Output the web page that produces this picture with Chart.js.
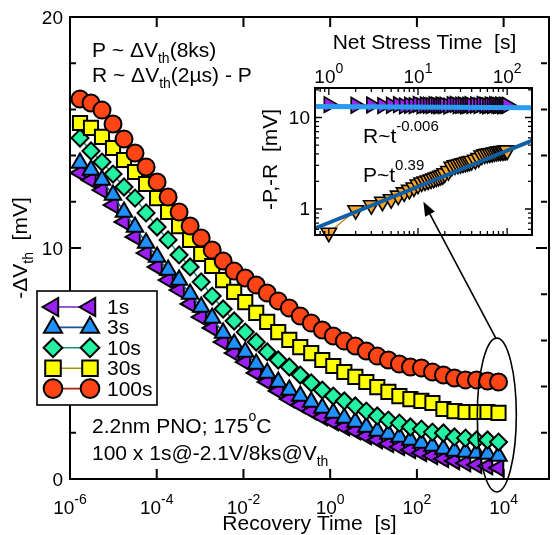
<!DOCTYPE html>
<html lang="en">
<head>
<meta charset="UTF-8" />
<title>Vth recovery after cyclic stress</title>
<script src="https://cdn.jsdelivr.net/npm/chart.js@4.4.0/dist/chart.umd.min.js"></script>
<style>
  body { margin: 0; background: #fff; }
  #wrap { position: relative; width: 559px; height: 535px; }
  #wrap canvas { position: absolute; left: 0; top: 0; }
</style>
</head>
<body>
<div id="wrap">
  <canvas id="mainChart" width="559" height="535"></canvas>
  <canvas id="insetChart" width="559" height="535"></canvas>
</div>
<script>
// recovery times [s] after the last stress cycle
const recoveryTimes = [1.7e-6, 3.05e-6, 5.47e-6, 9.82e-6, 1.76e-5, 3.16e-5, 5.68e-5, 1.02e-4, 1.83e-4, 3.28e-4,
  5.89e-4, 1.06e-3, 1.9e-3, 3.4e-3, 6.11e-3, 1.1e-2, 1.97e-2, 3.53e-2, 6.34e-2, 0.114,
  0.204, 0.366, 0.658, 1.18, 2.12, 3.8, 6.82, 12.2, 22.0, 39.4,
  70.8, 127, 228, 409, 735, 1320, 2370, 4250, 7620];

// -dVth [mV] for each net stress time
const dv1s = [13.25, 12.94, 12.51, 11.86, 11.13, 10.48, 9.78, 9.18, 8.61, 8.18,
  7.58, 7.01, 6.54, 5.93, 5.45, 5.06, 4.59, 4.2, 3.81, 3.46,
  3.2, 2.94, 2.68, 2.47, 2.25, 2.08, 1.86, 1.69, 1.52, 1.39,
  1.26, 1.13, 1.0, 0.87, 0.78, 0.69, 0.61, 0.56, 0.48];
const dv3s = [13.68, 13.38, 12.94, 12.29, 11.56, 10.91, 10.22, 9.61, 9.05, 8.61,
  8.01, 7.45, 6.97, 6.32, 5.84, 5.5, 4.98, 4.59, 4.2, 3.85,
  3.59, 3.33, 3.07, 2.86, 2.64, 2.47, 2.25, 2.08, 1.95, 1.82,
  1.69, 1.56, 1.43, 1.3, 1.21, 1.17, 1.13, 1.08, 1.0];
const dv10s = [14.76, 14.2, 13.72, 13.2, 12.64, 12.16, 11.52, 10.91, 10.35, 9.7,
  9.18, 8.53, 7.92, 7.36, 6.84, 6.36, 5.93, 5.5, 5.15, 4.85,
  4.5, 4.16, 3.85, 3.59, 3.38, 3.16, 2.94, 2.73, 2.55, 2.42,
  2.25, 2.16, 2.03, 1.99, 1.82, 1.77, 1.69, 1.69, 1.6];
const dv30s = [15.41, 15.2, 14.81, 14.33, 13.81, 13.29, 12.77, 12.16, 11.56, 10.95,
  10.35, 9.74, 9.22, 8.61, 8.1, 7.66, 7.19, 6.8, 6.36, 6.02,
  5.71, 5.45, 5.15, 4.89, 4.63, 4.42, 4.2, 3.98, 3.77, 3.59,
  3.46, 3.38, 3.29, 3.03, 2.94, 2.9, 2.9, 2.9, 2.86];
const dv100s = [16.45, 16.28, 15.97, 15.37, 14.72, 14.11, 13.51, 12.86, 12.21, 11.56,
  10.95, 10.43, 9.91, 9.44, 9.0, 8.7, 8.4, 8.05, 7.71, 7.4,
  7.06, 6.75, 6.45, 6.19, 5.97, 5.76, 5.54, 5.32, 5.15, 4.98,
  4.85, 4.81, 4.63, 4.5, 4.37, 4.29, 4.29, 4.24, 4.2];
const stressLabels = ['1s', '3s', '10s', '30s', '100s'];

// inset: permanent (P) and recoverable (R) parts vs net stress time [s]
const netStressTimes = [1, 2, 3, 4, 5, 6, 7, 8, 9, 10, 11, 12, 13, 14, 15, 16, 17, 18, 19, 20,
  22, 24, 26, 28, 30, 32, 34, 36, 38, 40, 44, 48, 52, 56, 60, 64, 68, 72, 76, 80,
  84, 88, 92, 96, 100];
const permanentP = [0.55, 0.97, 1.1, 1.2, 1.28, 1.4, 1.52, 1.62, 1.72, 1.85, 1.95, 2.0, 2.05, 2.1, 2.15, 2.2, 2.25, 2.3, 2.35, 2.45,
  2.6, 2.9, 3.0, 3.05, 3.1, 3.15, 3.2, 3.25, 3.3, 3.35, 3.45, 3.6, 3.85, 3.95, 4.0, 4.05, 4.1, 4.15, 4.2, 4.25,
  4.25, 4.3, 4.3, 4.35, 4.35];
const recoverableR = [13.8, 13.6, 13.7, 13.5, 13.6, 13.8, 13.4, 13.6, 13.5, 13.9, 13.4, 13.7, 13.6, 13.5, 13.8, 13.6, 13.4, 13.7, 13.5, 13.6,
  13.3, 13.8, 13.9, 13.5, 13.6, 13.7, 13.4, 13.6, 13.8, 13.5, 13.7, 13.5, 13.9, 13.6, 13.4, 13.7, 13.5, 13.8, 13.6, 13.5,
  13.7, 13.4, 13.6, 13.5, 13.6];
// power-law fits evaluated at the ends of the inset axis
const fitTimes = [0.716, 190];
const fitP = [0.62, 5.6];
const fitR = [13.2, 12.8];

const xTickExps = [-6, -4, -2, 0, 2, 4];
const yTicks = [0, 10, 20];
const yMinorTicks = [2, 4, 6, 8, 12, 14, 16, 18];
const insetXTickExps = [0, 1, 2];
const insetYTicks = [1, 10];

const FONT = '"Liberation Sans", Arial, Helvetica, sans-serif';
const TXT = 21;   // titles and notes
const TICK = 19;  // tick labels

// text with sub/superscripts: parts = [[text, 'sub'|'sup'|undefined], ...]
function richText(ctx, parts, x, y, size, align, small) {
  small = small || Math.round(size * 0.68);
  let w = 0;
  parts.forEach(p => {
    ctx.font = (p[1] ? small : size) + 'px ' + FONT;
    w += ctx.measureText(p[0]).width;
  });
  let cx = align === 'center' ? x - w / 2 : align === 'right' ? x - w : x;
  ctx.textAlign = 'left';
  ctx.textBaseline = 'alphabetic';
  ctx.fillStyle = '#000';
  parts.forEach(p => {
    ctx.font = (p[1] ? small : size) + 'px ' + FONT;
    const dy = p[1] === 'sub' ? size * 0.3 : p[1] === 'sup' ? -size * 0.55 : 0;
    ctx.fillText(p[0], cx, y + dy);
    cx += ctx.measureText(p[0]).width;
  });
}

// same geometry as the chart's own point styles, for the legend
function marker(ctx, style, x, y, r, rotDeg) {
  let a = rotDeg * Math.PI / 180;
  ctx.beginPath();
  if (style === 'circle') {
    ctx.arc(x, y, r, 0, Math.PI * 2);
  } else if (style === 'rect') {
    const s = Math.SQRT1_2 * r;
    ctx.rect(x - s, y - s, 2 * s, 2 * s);
  } else if (style === 'rectRot') {
    ctx.moveTo(x - r, y); ctx.lineTo(x, y - r); ctx.lineTo(x + r, y); ctx.lineTo(x, y + r);
    ctx.closePath();
  } else {
    ctx.moveTo(x + Math.sin(a) * r, y - Math.cos(a) * r);
    a += Math.PI * 2 / 3;
    ctx.lineTo(x + Math.sin(a) * r, y - Math.cos(a) * r);
    a += Math.PI * 2 / 3;
    ctx.lineTo(x + Math.sin(a) * r, y - Math.cos(a) * r);
    ctx.closePath();
  }
  ctx.fill();
  ctx.stroke();
}

const series = [
  { data: dv1s, fill: '#9b1ff0', line: '#7a22c8', style: 'triangle', rot: 270, r: 9.5 },
  { data: dv3s, fill: '#1e90ff', line: '#1c4fa0', style: 'triangle', rot: 0, r: 9.5 },
  { data: dv10s, fill: '#22f2a2', line: '#14966a', style: 'rectRot', rot: 0, r: 8.5 },
  { data: dv30s, fill: '#ffff00', line: '#9a9a00', style: 'rect', rot: 0, r: 10 },
  { data: dv100s, fill: '#ff4516', line: '#a3260c', style: 'circle', rot: 0, r: 8.5 }
];

// ellipse around the final points, in data units
const ring = { x0: 2470, x1: 19600, y0: -0.56, y1: 6.1 };

const mainDecor = {
  id: 'mainDecor',
  afterDraw(chart) {
    const ctx = chart.ctx;
    const a = chart.chartArea;
    const xs = chart.scales.x, ys = chart.scales.y;
    ctx.save();
    ctx.strokeStyle = '#000';
    ctx.lineWidth = 2;
    // right edge of the frame sits just past the canvas
    ctx.strokeRect(a.left, a.top, a.right + 2 - a.left, a.bottom - a.top);

    // ticks point inward on all four sides
    ctx.beginPath();
    xTickExps.forEach(e => {
      const px = xs.getPixelForValue(Math.pow(10, e));
      ctx.moveTo(px, a.bottom); ctx.lineTo(px, a.bottom - 10);
      ctx.moveTo(px, a.top); ctx.lineTo(px, a.top + 10);
    });
    yTicks.forEach(v => {
      const py = ys.getPixelForValue(v);
      ctx.moveTo(a.left, py); ctx.lineTo(a.left + 11, py);
      ctx.moveTo(a.right, py); ctx.lineTo(a.right - 11, py);
    });
    yMinorTicks.forEach(v => {
      const py = ys.getPixelForValue(v);
      ctx.moveTo(a.left, py); ctx.lineTo(a.left + 6, py);
      ctx.moveTo(a.right, py); ctx.lineTo(a.right - 6, py);
    });
    ctx.stroke();

    xTickExps.forEach(e => {
      richText(ctx, [['10'], [String(e), 'sup']], xs.getPixelForValue(Math.pow(10, e)), 514, TICK, 'center', 14);
    });
    ctx.font = TICK + 'px ' + FONT;
    ctx.textAlign = 'right';
    ctx.textBaseline = 'middle';
    yTicks.forEach(v => ctx.fillText(String(v), 63, ys.getPixelForValue(v) + 2));

    richText(ctx, [['Recovery Time  [s]']], (a.left + a.right) / 2 + 1, 530, TXT, 'center');
    ctx.save();
    ctx.translate(27, (a.top + a.bottom) / 2);
    ctx.rotate(-Math.PI / 2);
    richText(ctx, [['-\u0394V'], ['th', 'sub'], ['  [mV]']], 0, 0, TXT, 'center', 14);
    ctx.restore();

    richText(ctx, [['P ~ \u0394V'], ['th', 'sub'], ['(8ks)']], 92, 57, TXT, 'left', 14);
    richText(ctx, [['R ~ \u0394V'], ['th', 'sub'], ['(2\u00b5s) - P']], 92, 82, TXT, 'left', 14);
    richText(ctx, [['2.2nm PNO; 175'], ['o', 'sup'], ['C']], 92, 433, TXT, 'left', 14);
    richText(ctx, [['100 x 1s@-2.1V/8ks@V'], ['th', 'sub']], 92, 460, TXT, 'left', 14);

    // ellipse round the end of recovery
    const ex0 = xs.getPixelForValue(ring.x0), ex1 = xs.getPixelForValue(ring.x1);
    const ey0 = ys.getPixelForValue(ring.y1), ey1 = ys.getPixelForValue(ring.y0);
    ctx.strokeStyle = '#000';
    ctx.lineWidth = 1.6;
    ctx.beginPath();
    ctx.ellipse((ex0 + ex1) / 2, (ey0 + ey1) / 2, (ex1 - ex0) / 2, (ey1 - ey0) / 2, 0, 0, Math.PI * 2);
    ctx.stroke();

    // legend box
    ctx.fillStyle = '#fff';
    ctx.fillRect(37, 291, 120, 114);
    ctx.lineWidth = 1.6;
    ctx.strokeRect(37, 291, 120, 114);
    series.forEach((s, i) => {
      const ry = 307 + i * 20.4;
      ctx.strokeStyle = s.line;
      ctx.lineWidth = 1.6;
      ctx.beginPath();
      ctx.moveTo(53, ry); ctx.lineTo(90, ry);
      ctx.stroke();
      ctx.fillStyle = s.fill;
      ctx.strokeStyle = '#000';
      ctx.lineWidth = 2;
      marker(ctx, s.style, 53, ry, s.r * 1.1, s.rot);
      marker(ctx, s.style, 90, ry, s.r * 1.1, s.rot);
      richText(ctx, [[stressLabels[i]]], 107, ry + 7, TXT, 'left');
    });
    ctx.restore();
  }
};

const mainChart = new Chart(document.getElementById('mainChart'), {
  type: 'line',
  data: {
    datasets: series.map((s, i) => ({
      label: stressLabels[i],
      data: recoveryTimes.map((t, j) => ({ x: t, y: s.data[j] })),
      borderColor: s.line,
      borderWidth: 1.5,
      pointStyle: s.style,
      pointRotation: s.rot,
      pointRadius: s.r,
      pointBackgroundColor: s.fill,
      pointBorderColor: '#000',
      pointBorderWidth: 2,
      order: series.length - i
    }))
  },
  options: {
    responsive: false,
    animation: false,
    layout: { padding: { left: 70, top: 17, right: 0, bottom: 56 } },
    plugins: { legend: { display: false }, tooltip: { enabled: false } },
    scales: {
      x: { type: 'logarithmic', min: 1e-6, max: 1e5, display: false },
      y: { type: 'linear', min: 0, max: 20, display: false }
    }
  },
  plugins: [mainDecor]
});

const insetDecor = {
  id: 'insetDecor',
  beforeDraw(chart) {
    const a = chart.chartArea;
    chart.ctx.save();
    chart.ctx.fillStyle = '#fff';
    chart.ctx.fillRect(a.left, a.top, a.right - a.left, a.bottom - a.top);
    chart.ctx.restore();
  },
  afterDraw(chart) {
    const ctx = chart.ctx;
    const a = chart.chartArea;
    const xs = chart.scales.x, ys = chart.scales.y;
    ctx.save();
    ctx.strokeStyle = '#000';
    ctx.lineWidth = 2;
    ctx.strokeRect(a.left, a.top, a.right - a.left, a.bottom - a.top);

    ctx.lineWidth = 1.3;
    ctx.beginPath();
    for (let e = -1; e <= 2; e++) {
      for (let m = 1; m <= 9; m++) {
        const v = m * Math.pow(10, e);
        const len = m === 1 ? 7 : 4;
        if (v > xs.min && v < xs.max) {
          const px = xs.getPixelForValue(v);
          ctx.moveTo(px, a.bottom); ctx.lineTo(px, a.bottom - len);
          ctx.moveTo(px, a.top); ctx.lineTo(px, a.top + len);
        }
        if (v > ys.min && v < ys.max) {
          const py = ys.getPixelForValue(v);
          ctx.moveTo(a.left, py); ctx.lineTo(a.left + len, py);
          ctx.moveTo(a.right, py); ctx.lineTo(a.right - len, py);
        }
      }
    }
    ctx.stroke();

    insetXTickExps.forEach(e => {
      richText(ctx, [['10'], [String(e), 'sup']], xs.getPixelForValue(Math.pow(10, e)), 83, TICK, 'center', 14);
    });
    ctx.font = TICK + 'px ' + FONT;
    ctx.fillStyle = '#000';
    ctx.textAlign = 'right';
    ctx.textBaseline = 'middle';
    insetYTicks.forEach(v => ctx.fillText(String(v), 310, ys.getPixelForValue(v) + 1));

    richText(ctx, [['Net Stress Time  [s]']], (a.left + a.right) / 2 + 1, 49, TXT, 'center');
    ctx.save();
    ctx.translate(277, (a.top + a.bottom) / 2 - 2);
    ctx.rotate(-Math.PI / 2);
    richText(ctx, [['-P,-R  [mV]']], 0, 0, TXT, 'center');
    ctx.restore();

    richText(ctx, [['R~t'], ['-0.006', 'sup']], 363, 143, TXT, 'left', 15);
    richText(ctx, [['P~t'], ['0.39', 'sup']], 363, 182, TXT, 'left', 15);

    // arrow from the ringed points up to the P curve
    const mx = mainChart.scales.x, my = mainChart.scales.y;
    const tx = mx.getPixelForValue(Math.sqrt(ring.x0 * ring.x1)) - 1;
    const ty = my.getPixelForValue(ring.y1);
    const hx = xs.getPixelForValue(11.5), hy = ys.getPixelForValue(1.2);
    const ang = Math.atan2(hy - ty, hx - tx);
    ctx.strokeStyle = '#000';
    ctx.fillStyle = '#000';
    ctx.lineWidth = 1.6;
    ctx.beginPath();
    ctx.moveTo(tx, ty);
    ctx.lineTo(hx - Math.cos(ang) * 10, hy - Math.sin(ang) * 10);
    ctx.stroke();
    ctx.beginPath();
    ctx.moveTo(hx, hy);
    ctx.lineTo(hx - Math.cos(ang) * 14 + Math.sin(ang) * 5.5, hy - Math.sin(ang) * 14 - Math.cos(ang) * 5.5);
    ctx.lineTo(hx - Math.cos(ang) * 14 - Math.sin(ang) * 5.5, hy - Math.sin(ang) * 14 + Math.cos(ang) * 5.5);
    ctx.closePath();
    ctx.fill();
    ctx.restore();
  }
};

new Chart(document.getElementById('insetChart'), {
  type: 'line',
  data: {
    datasets: [
      {
        data: fitTimes.map((t, i) => ({ x: t, y: fitR[i] })),
        borderColor: '#2a9cf2', borderWidth: 5, pointRadius: 0, order: 1
      },
      {
        data: fitTimes.map((t, i) => ({ x: t, y: fitP[i] })),
        borderColor: '#0f5fa6', borderWidth: 4, pointRadius: 0, order: 2
      },
      {
        data: netStressTimes.map((t, i) => ({ x: t, y: permanentP[i] })),
        borderColor: '#c47a12', borderWidth: 1.2,
        pointStyle: 'triangle', pointRotation: 180, pointRadius: 9,
        pointBackgroundColor: '#ffa626', pointBorderColor: '#000', pointBorderWidth: 1.6,
        clip: false, order: 3
      },
      {
        data: netStressTimes.map((t, i) => ({ x: t, y: recoverableR[i] })),
        borderColor: '#7a22c8', borderWidth: 1.2,
        pointStyle: 'triangle', pointRotation: 90, pointRadius: 9,
        pointBackgroundColor: '#a020f0', pointBorderColor: '#000', pointBorderWidth: 1.6,
        clip: false, order: 4
      }
    ]
  },
  options: {
    responsive: false,
    animation: false,
    layout: { padding: { left: 315, top: 88, right: 27, bottom: 300 } },
    plugins: { legend: { display: false }, tooltip: { enabled: false } },
    scales: {
      x: { type: 'logarithmic', min: 0.716, max: 190, display: false },
      y: { type: 'logarithmic', min: 0.52, max: 21, display: false }
    }
  },
  plugins: [insetDecor]
});
</script>
</body>
</html>
